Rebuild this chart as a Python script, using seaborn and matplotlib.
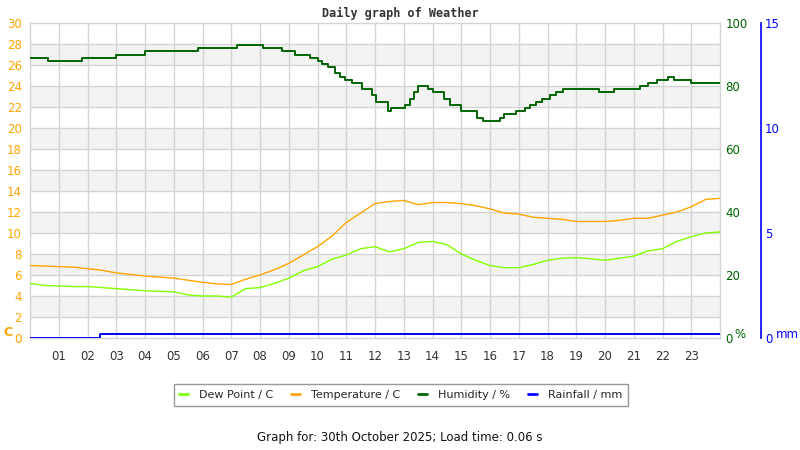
import numpy as np
import pandas as pd
import matplotlib
matplotlib.use("Agg")
import matplotlib.pyplot as plt
from matplotlib.lines import Line2D
import seaborn as sns

# hours of the day (half-hour readings)
hours = [0, 0.5, 1, 1.5, 2, 2.5, 3, 3.5, 4, 4.5, 5, 5.5, 6, 6.5, 7, 7.5, 8, 8.5,
         9, 9.5, 10, 10.5, 11, 11.5, 12, 12.5, 13, 13.5, 14, 14.5, 15, 15.5,
         16, 16.5, 17, 17.5, 18, 18.5, 19, 19.5, 20, 20.5, 21, 21.5, 22, 22.5,
         23, 23.5, 24]
temperature = [6.9, 6.85, 6.8, 6.75, 6.6, 6.45, 6.2, 6.05, 5.9, 5.8, 5.7, 5.5,
               5.3, 5.15, 5.1, 5.6, 6.0, 6.5, 7.1, 7.9, 8.7, 9.7, 11.0, 11.9,
               12.8, 13.0, 13.1, 12.7, 12.9, 12.9, 12.8, 12.6, 12.3, 11.9, 11.8,
               11.5, 11.4, 11.3, 11.1, 11.1, 11.1, 11.2, 11.4, 11.4, 11.7, 12.0,
               12.5, 13.2, 13.3]
dew_point = [5.2, 5.0, 4.95, 4.9, 4.9, 4.8, 4.7, 4.6, 4.5, 4.45, 4.4, 4.1, 4.0,
             4.0, 3.9, 4.7, 4.8, 5.2, 5.7, 6.4, 6.8, 7.5, 7.9, 8.5, 8.7, 8.2,
             8.5, 9.1, 9.2, 8.9, 8.0, 7.4, 6.9, 6.7, 6.7, 7.0, 7.4, 7.6, 7.65,
             7.55, 7.4, 7.6, 7.8, 8.3, 8.5, 9.2, 9.65, 10.0, 10.1]

# humidity changes (hour, %)
hum_hours = [0, 0.64, 1.8, 3.0, 4.0, 5.85, 7.2, 8.1, 8.75, 9.2, 9.74, 10.0,
             10.15, 10.37, 10.62, 10.78, 10.96, 11.2, 11.55, 11.9, 12.05,
             12.45, 12.55, 13.05, 13.2, 13.35, 13.5, 13.85, 14.0, 14.4, 14.6,
             15.0, 15.55, 15.75, 16.35, 16.5, 16.9, 17.2, 17.4, 17.6, 17.8,
             18.1, 18.3, 18.55, 19.8, 20.3, 21.2, 21.5, 21.8, 22.2, 22.4, 23.0,
             24.0]
humidity = [89, 88, 89, 90, 91, 92, 93, 92, 91, 90, 89, 88, 87, 86, 84, 83, 82,
            81, 79, 77, 75, 72, 73, 74, 76, 78, 80, 79, 78, 76, 74, 72, 70, 69,
            70, 71, 72, 73, 74, 75, 76, 77, 78, 79, 78, 79, 80, 81, 82, 83, 82,
            81, 81]

# rainfall (hour, mm)
rain_hours = [0, 2.43, 24]
rainfall = [0, 0.2, 0.2]

hour_labels = ["%02d" % h for h in range(1, 24)]

c_dew = "#80ff00"
c_temp = "#ffa500"
c_hum = "#006400"
c_rain = "#0000ff"
grid_c = "#d4d4d4"

sns.set_style("white")
plt.rcParams["font.family"] = ["DejaVu Sans"]

fig = plt.figure(figsize=(8, 4.5), dpi=100)
ax = fig.add_axes([30 / 800, 1 - 338 / 450, 690 / 800, 315 / 450])

# alternating bands and grid
for y0 in range(2, 30, 4):
    ax.axhspan(y0, y0 + 2, color="#f3f3f3", lw=0, zorder=0)
for y in range(2, 30, 2):
    ax.axhline(y, color=grid_c, lw=1, zorder=0.5)
for h in range(1, 24):
    ax.axvline(h, color=grid_c, lw=1, zorder=0.5)

df = pd.DataFrame({"hour": hours, "temp": temperature, "dew": dew_point})
sns.lineplot(data=df, x="hour", y="dew", ax=ax, color=c_dew, lw=1.0,
             estimator=None, zorder=3)
sns.lineplot(data=df, x="hour", y="temp", ax=ax, color=c_temp, lw=1.0,
             estimator=None, zorder=3)

ax.set_xlim(0, 24)
ax.set_ylim(0, 30)
ax.set_xticks(range(1, 24))
ax.set_xticklabels(hour_labels)
ax.set_yticks(range(0, 31, 2))
ax.tick_params(axis="x", length=0, pad=9, labelsize=8.5, labelcolor="#333333")
ax.tick_params(axis="y", length=0, pad=6, labelsize=8.5, labelcolor=c_temp)
ax.set_xlabel("")
ax.set_ylabel("")
for s in ax.spines.values():
    s.set_color(grid_c)
    s.set_linewidth(1)

# humidity axis
ax2 = ax.twinx()
sns.lineplot(x=hum_hours, y=humidity, ax=ax2, color=c_hum, lw=1.4,
             drawstyle="steps-post", estimator=None, zorder=4)
ax2.set_ylim(0, 100)
ax2.set_xlim(0, 24)
ax2.set_yticks(range(0, 101, 20))
ax2.tick_params(axis="y", length=0, pad=4, labelsize=8.5, labelcolor=c_hum)
for s in ax2.spines.values():
    s.set_visible(False)

# rainfall axis
ax3 = ax.twinx()
sns.lineplot(x=rain_hours, y=rainfall, ax=ax3, color=c_rain, lw=1.4,
             drawstyle="steps-post", estimator=None, zorder=4)
ax3.set_ylim(0, 15)
ax3.set_xlim(0, 24)
ax3.set_yticks([0, 5, 10, 15])
for s in ["top", "left", "bottom"]:
    ax3.spines[s].set_visible(False)
ax3.spines["right"].set_position(("axes", (761 - 30) / 690))
ax3.spines["right"].set_color(c_rain)
ax3.spines["right"].set_linewidth(1.2)
ax3.tick_params(axis="y", length=0, pad=3, labelsize=8.5, labelcolor=c_rain)

# unit labels
fig.text(3 / 800, 1 - 333 / 450, "C", color=c_temp, fontsize=9,
         fontweight="bold", va="center", ha="left")
fig.text(734 / 800, 1 - 335 / 450, "%", color=c_hum, fontsize=8.5,
         va="center", ha="left")
fig.text(776 / 800, 1 - 335 / 450, "mm", color=c_rain, fontsize=8.5,
         va="center", ha="left")

fig.text(400 / 800, 1 - 13 / 450, "Daily graph of Weather",
         family="DejaVu Sans Mono", fontweight="bold", fontsize=8.5,
         color="#333333", ha="center", va="center")

handles = [Line2D([], [], color=c_dew, lw=2),
           Line2D([], [], color=c_temp, lw=2),
           Line2D([], [], color=c_hum, lw=2),
           Line2D([], [], color=c_rain, lw=2)]
names = ["Dew Point / C", "Temperature / C", "Humidity / %", "Rainfall / mm"]
leg = fig.legend(handles, names, loc="center", ncol=4,
                 bbox_to_anchor=(401 / 800, 1 - 395 / 450), fontsize=8,
                 frameon=True, fancybox=False, handlelength=0.8,
                 handletextpad=1.0, columnspacing=1.6, borderpad=0.5,
                 borderaxespad=0)
leg.get_frame().set_edgecolor("#808080")
leg.get_frame().set_linewidth(1)

fig.text(400 / 800, 1 - 437 / 450,
         "Graph for: 30th October 2025; Load time: 0.06 s",
         fontsize=8.5, color="#111111", ha="center", va="center")

fig.savefig("out.png", dpi=100)
